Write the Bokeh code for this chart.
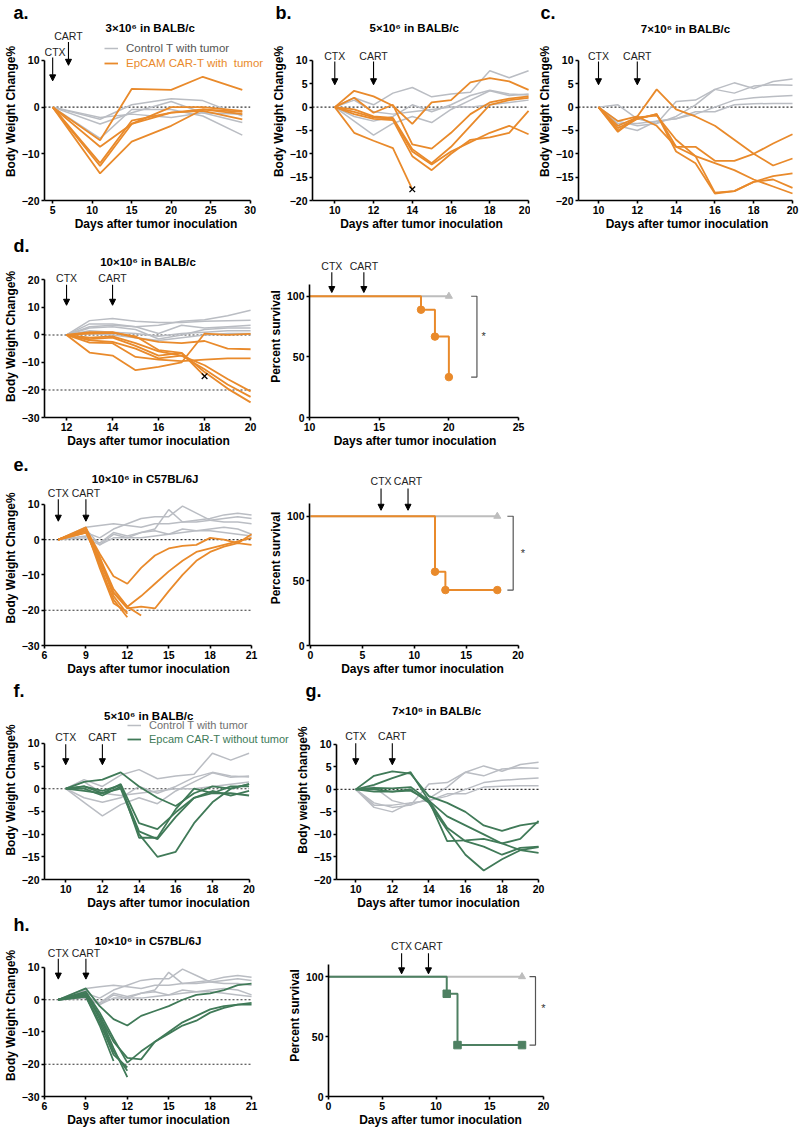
import math
from bokeh.plotting import figure
from bokeh.models import (Range1d, FixedTicker, Label, Arrow, NormalHead,
                          Legend, LegendItem, Title)
from bokeh.layouts import row, column
from bokeh.embed import file_html
from bokeh.resources import INLINE

# ============================ DATA ============================
# panel a : 3x10^6 in BALB/c
a_days = [5, 11, 15, 20, 24, 29]
a_ctrl = [[0, -2.6, 0.5, 1.8, 1.4, -1.9],
          [0, -3.6, -1.2, 1.2, -1.2, -3.3],
          [0, -6.7, -0.5, -0.5, -1.9, -6.0],
          [0, -2.2, -1.5, -2.2, -1.2, -1.5]]
a_cart = [[0, -7.1, 3.9, 3.7, 6.5, 3.7],
          [0, -8.5, -3.6, 0.0, 0.0, -0.8],
          [0, -12.0, -2.9, -1.2, -0.5, -1.5],
          [0, -12.6, -3.6, -1.2, -0.8, -2.6],
          [0, -14.2, -7.4, -4.0, -0.5, -1.0]]
a_treat = [("CTX", 5), ("CART", 7)]

# panel b : 5x10^6 in BALB/c
b_days = [10, 11, 12, 13, 14, 15, 16, 17, 18, 19, 20]
b_ctrl = [[0, 2.0, 0.5, 3.0, 4.2, 2.2, 2.8, 3.2, 7.8, 6.3, 7.8],
          [0, -3.0, -6.0, -3.5, -2.0, -3.3, -0.5, 1.5, 3.5, 2.5, 2.8],
          [0, -2.0, -3.0, -2.0, 0.5, -1.0, 0.5, 2.5, 3.6, 2.8, 2.6],
          [0, 1.5, -1.0, -1.5, -1.0, -0.5, 0.0, 0.0, 0.5, 1.0, 1.5]]
b_cart = [[0, 3.5, 2.3, 0.3, -3.6, 1.0, 1.5, 5.3, 6.2, 5.5, 3.7],
          [0, 2.0, -1.2, 0.5, -8.0, -8.9, -5.5, -1.5, 1.0, 1.8, 2.3],
          [0, -1.0, -2.2, -2.5, -9.5, -12.3, -9.5, -7.5, -5.5, -4.0, -5.8],
          [0, -1.5, -2.5, -2.8, -10.5, -13.5, -10.0, -7.0, -6.5, -5.5, -0.8],
          [0, -0.5, -2.0, -2.3, -9.0, -12.0, -8.5, -4.0, 0.5, 1.5, 2.0],
          [0, -5.5, -7.2, -8.8, -17.6]]
b_dead_day = [14]
b_dead_val = [-17.6]
b_treat = [("CTX", 10), ("CART", 12)]

# panel c : 7x10^6 in BALB/c
c_days = [10, 11, 12, 13, 14, 15, 16, 17, 18, 19, 20]
c_ctrl = [[0, 0.5, -2.5, -3.5, 1.2, 1.5, 3.8, 5.2, 4.0, 5.5, 6.0],
          [0, -3.0, -4.0, -3.5, -2.0, 0.5, 3.8, 3.0, 4.5, 4.8, 4.7],
          [0, -4.0, -5.0, -3.0, -2.5, -1.5, 0.0, 1.5, 2.0, 2.3, 2.5],
          [0, -3.5, -3.5, -3.0, -2.5, -1.0, -1.0, 0.5, 0.7, 0.8, 0.8]]
c_cart = [[0, -5.3, -2.0, 3.8, -0.5, -2.0, -4.0, -7.0, -10.0, -12.5, -11.0],
          [0, -4.5, -2.5, -1.5, -8.5, -8.5, -11.5, -11.5, -10.0, -7.8, -5.8],
          [0, -4.0, -2.2, -1.8, -7.0, -10.5, -18.3, -18.0, -16.0, -14.8, -14.2],
          [0, -5.0, -2.5, -1.5, -9.5, -12.0, -18.5, -18.0, -16.0, -15.5, -17.3],
          [0, -3.0, -2.0, -4.0, -8.5, -10.5, -12.0, -13.5, -15.5, -17.0, -18.5]]
c_treat = [("CTX", 10), ("CART", 12)]

# panel d : 10x10^6 in BALB/c
d_days = [12, 13, 14, 15, 16, 17, 18, 19, 20]
d_ctrl = [[0, 3.0, 3.5, 3.0, 3.5, 5.0, 5.5, 7.0, 9.0],
          [0, 5.2, 6.0, 5.0, 4.5, 4.5, 5.0, 5.2, 5.3],
          [0, 4.0, 4.0, 3.0, 0.5, 3.5, 2.5, 3.0, 3.5],
          [0, 2.5, 3.0, 2.0, -1.5, 0.0, 2.0, 2.5, 2.5],
          [0, 1.5, 1.0, 0.5, -0.5, 0.5, 1.0, 1.5, 1.5],
          [0, 0.5, 0.0, -1.0, -2.0, -1.0, 0.0, 0.5, 0.5]]
d_cart = [[0, -6.4, -7.5, -12.8, -11.6, -10.0, 0.5, 0.0, 0.4],
          [0, -2.8, -3.0, -8.0, -9.0, -9.5, -9.0, -8.5, -8.5],
          [0, 1.0, 1.0, -1.0, -2.5, -3.0, -2.2, -5.0, -5.2],
          [0, -1.0, -0.5, -3.0, -6.0, -7.5, -11.0, -16.0, -20.5],
          [0, -2.0, -2.5, -5.0, -8.5, -7.5, -12.5, -18.0, -22.5],
          [0, -1.5, -1.0, -4.0, -7.5, -6.5, -13.5, -19.5, -24.5],
          [0, 0.5, 0.8, -0.5, -5.5, -6.5, -15.0]]
d_dead_day = [18]
d_dead_val = [-15.0]
d_treat = [("CTX", 12), ("CART", 14)]
d_surv_ctrl_t = [10, 20]
d_surv_ctrl = [100, 100]
d_surv_t = [10, 18, 19, 20]
d_surv = [100, 88.9, 66.7, 33.3]
d_surv_treat = [("CTX", 11.6), ("CART", 13.9)]

# panel e : 10x10^6 in C57BL/6J
e_days = [7, 9, 10, 11, 12, 13, 14, 15, 16, 17, 18, 19, 20, 21]
e_ctrl = [[0, 3.5, 4.0, 4.5, 4.0, 3.5, 4.5, 4.5, 5.0, 5.5, 6.0, 7.0, 7.5, 7.0],
          [0, 3.0, -1.5, 1.5, 0.5, 2.0, 3.0, 8.5, 5.0, 5.0, 5.5, 6.0, 6.5, 6.0],
          [0, 2.0, 0.5, 3.0, 4.5, 6.0, 6.5, 6.5, 9.5, 7.5, 5.5, 5.0, 5.0, 4.5],
          [0, 1.0, -1.0, 2.0, 1.0, 2.0, 2.5, 1.5, 3.0, 2.5, 3.0, 3.5, 3.0, 1.5],
          [0, 0.5, -1.5, 0.5, 0.5, 0.5, 1.0, 1.5, 2.0, 2.5, 2.5, 2.0, 1.5, 1.0]]
e_cart = [[0, 3.0, -4.0, -10.4, -12.5, -8.0, -4.5, -2.5, -1.8, -1.5, 0.5, 0.0, -1.0, 1.5],
          [0, 3.5, -6.0, -15.0, -19.5, -19.0, -19.5, -14.6, -10.0, -6.0, -3.5, -2.0, -1.0, -1.5],
          [0, 3.0, -5.0, -14.0, -19.0, -16.0, -12.5, -9.0, -6.0, -3.5, -2.5, -1.5, -0.5, 0.5],
          [0, 2.5, -7.0, -17.0, -22.0],
          [0, 2.0, -5.0, -16.0, -21.0],
          [0, 3.0, -8.0, -18.0, -20.5],
          [0, 2.0, -6.0, -15.0, -19.0, -21.5]]
e_treat = [("CTX", 7), ("CART", 9)]
e_surv_ctrl_t = [0, 18]
e_surv_ctrl = [100, 100]
e_surv_t = [0, 12, 13, 18]
e_surv = [100, 57.1, 42.9, 42.9]
e_surv_treat = [("CTX", 6.8), ("CART", 9.4)]

# panel f : 5x10^6 in BALB/c, CAR-T without tumor
f_days = [10, 11, 12, 13, 14, 15, 16, 17, 18, 19, 20]
f_ctrl = b_ctrl
f_cart = [[0, 1.5, 2.0, 3.6, 0.5, -2.0, -3.8, -1.0, 0.5, 0.0, 1.0],
          [0, 0.5, -1.0, 1.0, -7.6, -8.9, -5.2, -2.0, -0.5, -1.5, -0.5],
          [0, 0.0, -1.5, 0.5, -9.4, -11.1, -6.2, -2.0, -1.0, -1.0, -1.5],
          [0, 0.5, -0.5, 0.8, -10.8, -10.8, -4.5, 0.0, -1.0, 0.5, 0.5],
          [0, -0.5, -1.0, 0.0, -10.0, -15.0, -13.9, -7.6, -3.0, 0.0, 1.0]]
f_treat = [("CTX", 10), ("CART", 12)]

# panel g : 7x10^6 in BALB/c, CAR-T without tumor
g_days = [10, 11, 12, 13, 14, 15, 16, 17, 18, 19, 20]
g_ctrl = c_ctrl
g_cart = [[0, 3.0, 4.0, 3.5, -1.5, -3.0, -5.0, -8.0, -9.2, -8.0, -7.4],
          [0, 1.0, 2.5, 3.8, -2.5, -6.0, -8.0, -10.0, -12.0, -11.0, -7.0],
          [0, 0.3, 0.2, 0.5, -2.5, -11.5, -11.3, -11.0, -12.0, -13.5, -14.1],
          [0, -0.5, -0.5, -0.3, -2.5, -8.5, -11.5, -12.7, -14.5, -13.0, -12.7],
          [0, 0.0, -0.5, 0.0, -3.0, -9.0, -14.5, -18.0, -15.5, -13.5, -12.8]]
g_treat = [("CTX", 10), ("CART", 12)]

# panel h : 10x10^6 in C57BL/6J, CAR-T without tumor
h_days = e_days
h_ctrl = e_ctrl
h_cart = [[0, 3.5, -2.0, -6.0, -8.0, -5.0, -3.5, -2.0, 0.0, 1.5, 2.0, 3.0, 4.5, 5.0],
          [0, 2.0, -5.0, -13.0, -18.0, -18.5, -13.0, -10.5, -8.0, -6.5, -4.0, -2.5, -1.5, -1.0],
          [0, 2.5, -4.0, -12.0, -19.5, -16.0, -13.0, -10.0, -7.0, -5.0, -3.0, -2.0, -1.5, -1.5],
          [0, 2.0, -6.0, -16.0, -22.0],
          [0, 1.5, -5.0, -15.0, -24.0],
          [0, 1.0, -7.0, -17.0, -21.0],
          [0, 1.0, -8.0, -19.0]]
h_treat = [("CTX", 7), ("CART", 9)]
h_surv_ctrl_t = [0, 18]
h_surv_ctrl = [100, 100]
h_surv_t = [0, 11, 12, 18]
h_surv = [100, 85.7, 42.9, 42.9]
h_surv_treat = [("CTX", 6.8), ("CART", 9.3)]

# ============================ STYLE ============================
FONT = "Liberation Sans"
ORANGE = "#E98A2B"
GRAY = "#BABDC3"
GREEN = "#407A58"
SGREEN = "#4E8062"
XLAB = "Days after tumor inoculation"
YL = "Body Weight Change%"
W_CTRL = 1.5
W_TX = 1.8


class Geo:
    def __init__(self, xv0, xp0, xv1, xp1, yv0, yp0, yv1, yp1):
        self.xv0, self.xp0 = xv0, xp0
        self.kx = (xv1 - xv0) / (xp1 - xp0)
        self.yv0, self.yp0 = yv0, yp0
        self.ky = (yv1 - yv0) / (yp1 - yp0)

    def x(self, px):
        return self.xv0 + (px - self.xp0) * self.kx

    def y(self, py):
        return self.yv0 + (py - self.yp0) * self.ky


def base(cell, frame, g, xticks, yticks, xb, yb, ylab, letter=None, letter_x=4):
    cl, ct, cr, cb = cell
    fl, ft, fr, fb = frame
    p = figure(width=cr - cl, height=cb - ct,
               x_range=Range1d(g.x(fl), g.x(fr)), y_range=Range1d(g.y(fb), g.y(ft)),
               min_border_left=fl - cl, min_border_right=cr - fr,
               min_border_top=ft - ct, min_border_bottom=cb - fb,
               output_backend="svg", toolbar_location=None, title=None)
    p.grid.visible = False
    p.outline_line_color = None
    p.background_fill_color = "white"
    p.xaxis.ticker = FixedTicker(ticks=xticks)
    p.yaxis.ticker = FixedTicker(ticks=yticks)
    p.xaxis.bounds = xb
    p.yaxis.bounds = yb
    for ax in (p.xaxis[0], p.yaxis[0]):
        ax.axis_line_width = 1.6
        ax.axis_line_color = "black"
        ax.major_tick_line_width = 1.6
        ax.major_tick_line_color = "black"
        ax.major_tick_out = 3
        ax.major_tick_in = 0
        ax.minor_tick_line_color = None
        ax.major_label_text_font = FONT
        ax.major_label_text_font_style = "bold"
        ax.major_label_text_font_size = "10.5px"
        ax.major_label_text_color = "black"
        ax.major_label_standoff = 2
        ax.axis_label_text_font = FONT
        ax.axis_label_text_font_style = "bold"
        ax.axis_label_text_font_size = "12px"
        ax.axis_label_text_color = "black"
    p.yaxis.axis_label = ylab
    p.yaxis.axis_label_standoff = 1
    p.xaxis.axis_label = XLAB
    p.xaxis.axis_label_standoff = 0
    if letter:
        p.add_layout(Title(text=letter, align="left", offset=letter_x - fl, standoff=0,
                           text_font=FONT, text_font_size="18px", text_font_style="bold",
                           text_color="black"), "above")
    return p


def label(p, x, y, text, size="10.5px", bold=False, color="black", align="center"):
    p.add_layout(Label(x=x, y=y, text=text, text_font=FONT, text_font_size=size,
                       text_font_style="bold" if bold else "normal", text_color=color,
                       text_align=align, text_baseline="middle"))


def title_label(p, g, px, py, text):
    label(p, g.x(px), g.y(py), text, size="11.5px", bold=True)


def arrow(p, day, y0, y1):
    p.add_layout(Arrow(end=NormalHead(size=6, line_color="black", fill_color="black", line_width=1),
                       x_start=day, y_start=y0, x_end=day, y_end=y1,
                       line_color="black", line_width=1.1))


def treatments(p, g, treat, ty, a0, a1):
    for name, day in treat:
        label(p, day, g.y(ty), name, size="10.5px", color="#222222")
        arrow(p, day, g.y(a0), g.y(a1))


def lines(p, days, series, color, width=1.5):
    return p.multi_line(xs=[days[:len(s)] for s in series], ys=series,
                        line_color=color, line_width=width)


def legend_entry(p, frame, px, py, text, renderer, color, size):
    fl, ft, fr, fb = frame
    lg = Legend(items=[LegendItem(label=text, renderers=[renderer])],
                location=(px - fl, fb - (py + 7)),
                padding=0, margin=0, spacing=0, glyph_width=14, glyph_height=14,
                label_height=14, label_standoff=8, label_text_font=FONT,
                label_text_font_size=size, label_text_color=color,
                border_line_color=None, background_fill_alpha=0)
    p.add_layout(lg)


def dotted(p, x0, x1, levels):
    p.segment(x0=[x0] * len(levels), y0=levels, x1=[x1] * len(levels), y1=levels,
              line_color="#333333", line_dash="2 2", line_width=1.1)


def survival(p, ctrl_t, ctrl_s, t, s, color, marker):
    p.line(ctrl_t, ctrl_s, line_color="#BDBDBD", line_width=2)
    p.scatter([ctrl_t[-1]], [ctrl_s[-1]], marker="triangle", size=7, color="#BDBDBD")
    p.step(t, s, mode="after", line_color=color, line_width=2)
    p.scatter(t[1:], s[1:], marker=marker, size=7.5, fill_color=color, line_color=color)


def bracket(p, g, bx_px, top, bottom, star_px, star_py):
    bx = g.x(bx_px)
    tk = bx - g.x(bx_px - 6)
    p.line([bx - tk, bx, bx, bx - tk], [top, top, bottom, bottom], line_color="#555555", line_width=1.2)
    label(p, g.x(star_px), g.y(star_py), "*", size="11px", color="#333333")


# ---------------- panel a ----------------
cell = (0, 0, 268, 233); frame = (35, 19, 267, 202)
g = Geo(5, 43.5, 30, 249, 10, 58, -20, 202)
pa = base(cell, frame, g, [5, 10, 15, 20, 25, 30], [-20, -10, 0, 10], (g.x(35), 30), (-20, 10), YL, "a.")
dotted(pa, g.x(35), 30, [0])
rg = lines(pa, a_days, a_ctrl, GRAY, W_CTRL)
ro = lines(pa, a_days, a_cart, ORANGE, W_TX)
title_label(pa, g, 145, 25, "3×10⁶ in BALB/c")
label(pa, g.x(46), g.y(49), a_treat[0][0], color="#222222")
arrow(pa, a_treat[0][1], g.y(55), g.y(79))
label(pa, a_treat[1][1], g.y(33), a_treat[1][0], color="#222222")
arrow(pa, a_treat[1][1], g.y(39), g.y(63))
legend_entry(pa, frame, 95, 50, "Control T with tumor", rg, "#555555", "11.5px")
legend_entry(pa, frame, 95, 65, "EpCAM CAR-T with  tumor", ro, ORANGE, "11.5px")

# ---------------- panel b ----------------
cell = (268, 0, 530, 233); frame = (308, 19, 533, 202)
g = Geo(10, 331, 20, 531, 10, 58, -20, 202)
pb = base(cell, frame, g, [10, 12, 14, 16, 18, 20], [-20, -15, -10, -5, 0, 5, 10],
          (g.x(308), 20), (-20, 10), YL, "b.", 271)
dotted(pb, g.x(308), 20, [0])
lines(pb, b_days, b_ctrl, GRAY, W_CTRL)
lines(pb, b_days, b_cart, ORANGE, W_TX)
pb.scatter(b_dead_day, b_dead_val, marker="x", size=8, line_color="black", line_width=1.3)
title_label(pb, g, 413, 25, "5×10⁶ in BALB/c")
treatments(pb, g, b_treat, 53, 59, 83)

# ---------------- panel c ----------------
cell = (530, 0, 800, 233); frame = (578, 19, 795, 202)
g = Geo(10, 598, 20, 792, 10, 58, -20, 202)
pc = base(cell, frame, g, [10, 12, 14, 16, 18, 20], [-20, -15, -10, -5, 0, 5, 10],
          (g.x(578), 20), (-20, 10), YL, "c.", 540)
dotted(pc, g.x(578), 20, [0])
lines(pc, c_days, c_ctrl, GRAY, W_CTRL)
lines(pc, c_days, c_cart, ORANGE, W_TX)
title_label(pc, g, 685, 26, "7×10⁶ in BALB/c")
treatments(pc, g, c_treat, 53, 59, 83)

# ---------------- panel d (weights) ----------------
cell = (0, 233, 265, 450); frame = (35, 252, 252, 418)
g = Geo(12, 58, 20, 250, 20, 277, -30, 418)
pdl = base(cell, frame, g, [12, 14, 16, 18, 20], [-30, -20, -10, 0, 10, 20],
           (g.x(35), 20), (-30, 20), YL, "d.")
dotted(pdl, g.x(35), 20, [0, -20])
lines(pdl, d_days, d_ctrl, GRAY, W_CTRL)
lines(pdl, d_days, d_cart, ORANGE, W_TX)
pdl.scatter(d_dead_day, d_dead_val, marker="x", size=8, line_color="black", line_width=1.3)
title_label(pdl, g, 143, 259, "10×10⁶ in BALB/c")
treatments(pdl, g, d_treat, 275, 282, 303)

# ---------------- panel d (survival) ----------------
cell = (265, 233, 800, 450); frame = (302, 245, 520, 420)
g = Geo(10, 302, 25, 518, 100, 289, 0, 420)
pdr = base(cell, frame, g, [10, 15, 20, 25], [0, 50, 100], (10, 25), (0, 110), "Percent survival")
survival(pdr, d_surv_ctrl_t, d_surv_ctrl, d_surv_t, d_surv, ORANGE, "circle")
bracket(pdr, g, 475, d_surv[0], d_surv[-1], 482, 332)
treatments(pdr, g, d_surv_treat, 256, 263, 285)

# ---------------- panel e (weights) ----------------
cell = (0, 450, 265, 678); frame = (35, 469, 252, 645)
g = Geo(6, 35, 21, 251, 10, 503, -30, 645)
pel = base(cell, frame, g, [6, 9, 12, 15, 18, 21], [-30, -20, -10, 0, 10],
           (6, 21), (-30, 10), YL, "e.")
dotted(pel, 6, 21, [0, -20])
lines(pel, e_days, e_ctrl, GRAY, W_CTRL)
lines(pel, e_days, e_cart, ORANGE, W_TX)
title_label(pel, g, 140, 478, "10×10⁶ in C57BL/6J")
treatments(pel, g, e_treat, 492, 498, 520)

# ---------------- panel e (survival) ----------------
cell = (265, 450, 800, 678); frame = (302, 470, 535, 646)
g = Geo(0, 303, 20, 517, 100, 516, 0, 646)
per = base(cell, frame, g, [0, 5, 10, 15, 20], [0, 50, 100], (g.x(302), 20), (0, 110), "Percent survival")
survival(per, e_surv_ctrl_t, e_surv_ctrl, e_surv_t, e_surv, ORANGE, "circle")
bracket(per, g, 512, e_surv[0], e_surv[-1], 522, 553)
treatments(per, g, e_surv_treat, 481, 488, 510)

# ---------------- panel f ----------------
cell = (0, 678, 292, 912); frame = (35, 697, 292, 881)
g = Geo(10, 57, 20, 247, 10, 741, -20, 881)
pf = base(cell, frame, g, [10, 12, 14, 16, 18, 20], [-20, -15, -10, -5, 0, 5, 10],
          (g.x(35), 20), (-20, 10), YL, "f.")
dotted(pf, g.x(35), 20, [0])
rg = lines(pf, f_days, f_ctrl, GRAY, W_CTRL)
rn = lines(pf, f_days, f_cart, GREEN, W_TX)
title_label(pf, g, 143, 713, "5×10⁶ in BALB/c")
legend_entry(pf, frame, 118, 727, "Control T with tumor", rg, "#707070", "11px")
legend_entry(pf, frame, 118, 741, "Epcam CAR-T without tumor", rn, GREEN, "11px")
treatments(pf, g, f_treat, 735, 742, 763)

# ---------------- panel g ----------------
cell = (292, 678, 800, 912); frame = (328, 697, 540, 881)
g = Geo(10, 348, 20, 538, 10, 742, -20, 881)
pg = base(cell, frame, g, [10, 12, 14, 16, 18, 20], [-20, -15, -10, -5, 0, 5, 10],
          (g.x(328), 20), (-20, 10), "Body weight change%", "g.", 297)
dotted(pg, g.x(328), 20, [0])
lines(pg, g_days, g_ctrl, GRAY, W_CTRL)
lines(pg, g_days, g_cart, GREEN, W_TX)
title_label(pg, g, 432, 708, "7×10⁶ in BALB/c")
treatments(pg, g, g_treat, 734, 741, 763)

# ---------------- panel h (weights) ----------------
cell = (0, 912, 265, 1129); frame = (35, 931, 252, 1098)
g = Geo(6, 35, 21, 251, 10, 965, -30, 1098)
phl = base(cell, frame, g, [6, 9, 12, 15, 18, 21], [-30, -20, -10, 0, 10],
           (6, 21), (-30, 10), YL, "h.")
dotted(phl, 6, 21, [0, -20])
lines(phl, h_days, h_ctrl, GRAY, W_CTRL)
lines(phl, h_days, h_cart, GREEN, W_TX)
title_label(phl, g, 143, 938, "10×10⁶ in C57BL/6J")
treatments(phl, g, h_treat, 950, 956, 977)

# ---------------- panel h (survival) ----------------
cell = (265, 912, 800, 1129); frame = (328, 925, 552, 1098)
g = Geo(0, 328, 20, 543, 100, 970, 0, 1098)
phr = base(cell, frame, g, [0, 5, 10, 15, 20], [0, 50, 100], (0, 20), (0, 110), "Percent survival")
survival(phr, h_surv_ctrl_t, h_surv_ctrl, h_surv_t, h_surv, SGREEN, "square")
bracket(phr, g, 535, h_surv[0], h_surv[-1], 543, 1003)
treatments(phr, g, h_surv_treat, 937, 945, 967)

layout = column(row(pa, pb, pc), row(pdl, pdr), row(pel, per), row(pf, pg), row(phl, phr))
open("out.html", "w").write(file_html(layout, INLINE))
